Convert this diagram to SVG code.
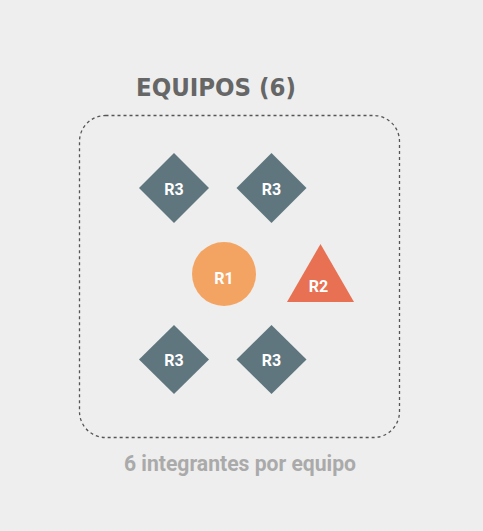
<svg xmlns="http://www.w3.org/2000/svg" width="483" height="531" viewBox="0 0 483 531">
<style>
.r3{fill:#5f767f}
.lbl{font-family:Roboto,"Liberation Sans",sans-serif;font-weight:bold;font-size:16px;fill:#fff;text-anchor:middle}
</style>
<rect width="483" height="531" fill="#eeeeee"/>
<text x="136" y="96" font-family="'DejaVu Sans Condensed','DejaVu Sans',sans-serif" font-weight="bold" font-size="25.5" fill="#666666" textLength="160" lengthAdjust="spacingAndGlyphs">EQUIPOS (6)</text>
<g id="container">
<rect x="79.5" y="115.5" width="320" height="322" rx="26" fill="none" stroke="#555" stroke-width="1.3" stroke-dasharray="3,3"/>
</g>
<g id="connectors"></g>
<g id="r3a"><polygon class="r3" points="174,153 209,188 174,223 139,188"/><text class="lbl" x="174" y="194.5">R3</text></g>
<g id="r3b"><polygon class="r3" points="271.5,153 306.5,188 271.5,223 236.5,188"/><text class="lbl" x="271.5" y="194.5">R3</text></g>
<g id="r1"><circle cx="224" cy="274" r="32" fill="#f4a462"/><text class="lbl" x="224" y="284">R1</text></g>
<g id="r2"><polygon points="320.5,244 354,302 287,302" fill="#e87153"/><text class="lbl" x="318.5" y="292">R2</text></g>
<g id="r3c"><polygon class="r3" points="174,325 209,359.5 174,394 139,359.5"/><text class="lbl" x="174" y="366">R3</text></g>
<g id="r3d"><polygon class="r3" points="271.5,325 306.5,359.5 271.5,394 236.5,359.5"/><text class="lbl" x="271.5" y="366">R3</text></g>
<text x="124" y="471" font-family="Roboto,'Liberation Sans',sans-serif" font-weight="bold" font-size="21.5" fill="#aaaaaa" textLength="232" lengthAdjust="spacingAndGlyphs">6 integrantes por equipo</text>
</svg>
